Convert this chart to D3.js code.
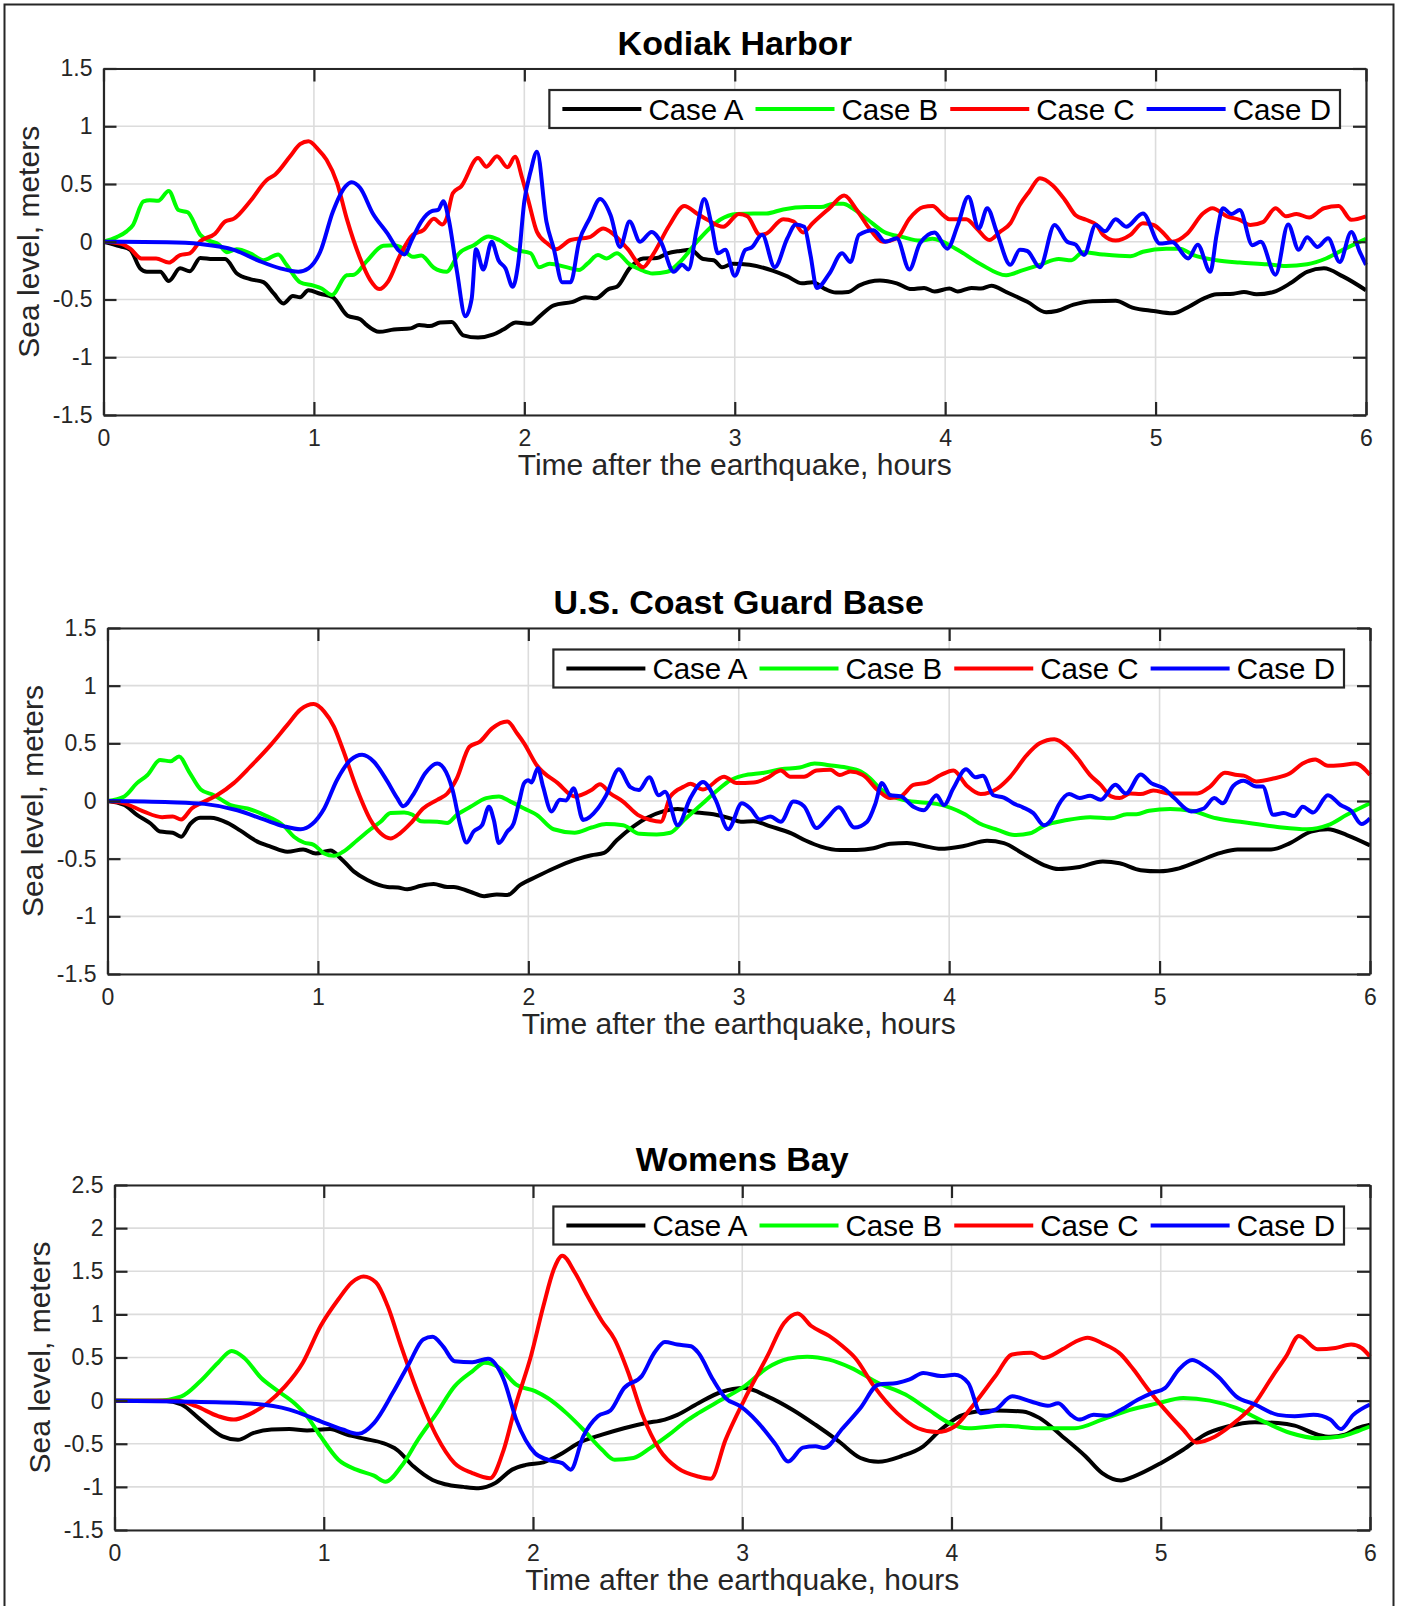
<!DOCTYPE html>
<html>
<head>
<meta charset="utf-8">
<script src="https://cdn.jsdelivr.net/npm/d3@7"></script>
<style>
body { margin: 0; background: #fff; }
text { font-family: "Liberation Sans", Arial, Helvetica, sans-serif; }
</style>
</head>
<body>
<svg id="fig" width="1403" height="1606"></svg>
<script>
////////////////////////////////////////////////////////////////
// Sea level at three Kodiak sites, four tsunami source cases
// values as [hours, meters]

const caseNames = ["Case A", "Case B", "Case C", "Case D"];
const caseColors = ["#000000", "#00ff00", "#ff0000", "#0000ff"];

const hourTicks = [0, 1, 2, 3, 4, 5, 6];
const levelTicks = [-1.5, -1, -0.5, 0, 0.5, 1, 1.5];
const levelTicksBay = [-1.5, -1, -0.5, 0, 0.5, 1, 1.5, 2, 2.5];

const titles = ["Kodiak Harbor", "U.S. Coast Guard Base", "Womens Bay"];
const xLabel = "Time after the earthquake, hours";
const yLabel = "Sea level, meters";

// Kodiak Harbor
let kodiakA = [[0,0],[0.08,-0.04],[0.127,-0.07],[0.174,-0.23],[0.206,-0.26],[0.27,-0.26],[0.31,-0.34],[0.364,-0.23],[0.41,-0.255],[0.46,-0.14],[0.52,-0.15],[0.578,-0.15],[0.634,-0.275],[0.70,-0.325],[0.76,-0.35],[0.81,-0.45],[0.855,-0.535],[0.90,-0.47],[0.934,-0.48],[0.974,-0.42],[1.03,-0.45],[1.09,-0.48],[1.16,-0.64],[1.22,-0.67],[1.25,-0.72],[1.31,-0.78],[1.38,-0.76],[1.46,-0.75],[1.50,-0.72],[1.55,-0.73],[1.60,-0.70],[1.655,-0.695],[1.71,-0.81],[1.78,-0.83],[1.85,-0.805],[1.90,-0.76],[1.96,-0.70],[2.03,-0.71],[2.07,-0.65],[2.14,-0.55],[2.23,-0.52],[2.29,-0.48],[2.34,-0.49],[2.40,-0.41],[2.44,-0.39],[2.50,-0.23],[2.565,-0.145],[2.63,-0.14],[2.68,-0.10],[2.74,-0.08],[2.79,-0.07],[2.85,-0.15],[2.90,-0.16],[2.94,-0.22],[2.99,-0.19],[3.07,-0.20],[3.18,-0.25],[3.25,-0.30],[3.32,-0.36],[3.37,-0.35],[3.43,-0.41],[3.48,-0.44],[3.54,-0.435],[3.59,-0.38],[3.69,-0.335],[3.77,-0.36],[3.84,-0.41],[3.90,-0.40],[3.95,-0.43],[4.02,-0.405],[4.06,-0.43],[4.125,-0.40],[4.17,-0.405],[4.22,-0.38],[4.29,-0.435],[4.39,-0.52],[4.48,-0.61],[4.53,-0.60],[4.61,-0.545],[4.70,-0.515],[4.81,-0.51],[4.89,-0.57],[4.99,-0.60],[5.08,-0.62],[5.16,-0.56],[5.23,-0.49],[5.29,-0.455],[5.37,-0.45],[5.42,-0.435],[5.48,-0.455],[5.56,-0.435],[5.64,-0.36],[5.72,-0.26],[5.80,-0.23],[5.89,-0.30],[6.0,-0.42]];
let kodiakB = [[0,0],[0.063,0.04],[0.11,0.09],[0.14,0.145],[0.19,0.35],[0.22,0.36],[0.26,0.355],[0.31,0.44],[0.356,0.275],[0.40,0.255],[0.46,0.06],[0.507,0.005],[0.546,-0.02],[0.586,-0.09],[0.633,-0.065],[0.697,-0.10],[0.76,-0.16],[0.83,-0.11],[0.87,-0.20],[0.934,-0.35],[0.998,-0.38],[1.037,-0.405],[1.085,-0.46],[1.156,-0.29],[1.19,-0.285],[1.25,-0.17],[1.33,-0.035],[1.38,-0.03],[1.41,-0.045],[1.47,-0.13],[1.51,-0.12],[1.57,-0.225],[1.63,-0.26],[1.69,-0.10],[1.76,-0.03],[1.83,0.045],[1.88,0.015],[1.95,-0.065],[2.03,-0.10],[2.07,-0.22],[2.12,-0.19],[2.20,-0.22],[2.26,-0.245],[2.30,-0.19],[2.35,-0.115],[2.39,-0.145],[2.44,-0.10],[2.50,-0.195],[2.55,-0.24],[2.61,-0.275],[2.68,-0.26],[2.74,-0.175],[2.82,0],[2.88,0.115],[2.93,0.19],[3.01,0.24],[3.09,0.245],[3.15,0.245],[3.23,0.28],[3.34,0.30],[3.41,0.30],[3.47,0.33],[3.515,0.33],[3.56,0.29],[3.63,0.195],[3.71,0.085],[3.80,0.04],[3.88,0.01],[3.94,0.025],[4.05,-0.06],[4.165,-0.19],[4.29,-0.29],[4.37,-0.245],[4.45,-0.20],[4.54,-0.15],[4.60,-0.16],[4.655,-0.09],[4.75,-0.11],[4.88,-0.125],[4.94,-0.087],[5.05,-0.06],[5.115,-0.06],[5.18,-0.115],[5.29,-0.16],[5.40,-0.18],[5.53,-0.195],[5.62,-0.21],[5.72,-0.195],[5.81,-0.145],[5.89,-0.07],[6.0,0.025]];
let kodiakC = [[0,0],[0.08,-0.015],[0.127,-0.06],[0.18,-0.145],[0.25,-0.145],[0.31,-0.18],[0.364,-0.115],[0.41,-0.10],[0.46,0.005],[0.53,0.07],[0.578,0.175],[0.62,0.20],[0.697,0.35],[0.776,0.535],[0.815,0.58],[0.887,0.74],[0.934,0.845],[0.974,0.87],[1.02,0.80],[1.06,0.71],[1.11,0.51],[1.156,0.20],[1.22,-0.145],[1.267,-0.33],[1.31,-0.41],[1.354,-0.34],[1.41,-0.115],[1.47,0.06],[1.52,0.10],[1.57,0.20],[1.61,0.15],[1.63,0.20],[1.66,0.42],[1.70,0.48],[1.78,0.725],[1.82,0.65],[1.87,0.74],[1.92,0.645],[1.956,0.735],[1.99,0.55],[2.02,0.35],[2.06,0.085],[2.11,-0.015],[2.15,-0.065],[2.22,0.015],[2.31,0.04],[2.375,0.115],[2.41,0.085],[2.49,-0.06],[2.565,-0.22],[2.61,-0.115],[2.69,0.145],[2.76,0.31],[2.82,0.245],[2.87,0.19],[2.945,0.13],[3.02,0.24],[3.06,0.22],[3.12,0.06],[3.15,0.07],[3.23,0.195],[3.28,0.175],[3.325,0.08],[3.37,0.16],[3.45,0.29],[3.52,0.40],[3.58,0.275],[3.64,0.115],[3.705,0],[3.77,0.03],[3.83,0.20],[3.895,0.30],[3.94,0.31],[3.99,0.23],[4.02,0.195],[4.10,0.195],[4.15,0.115],[4.21,0.015],[4.26,0.085],[4.31,0.16],[4.355,0.32],[4.40,0.435],[4.45,0.55],[4.51,0.49],[4.57,0.36],[4.62,0.23],[4.67,0.19],[4.72,0.145],[4.75,0.06],[4.81,0.01],[4.88,0.06],[4.94,0.16],[4.99,0.145],[5.04,0.07],[5.08,0],[5.15,0.07],[5.225,0.245],[5.27,0.29],[5.34,0.22],[5.40,0.19],[5.45,0.145],[5.51,0.17],[5.57,0.29],[5.62,0.22],[5.67,0.24],[5.73,0.21],[5.80,0.29],[5.87,0.31],[5.93,0.19],[6.0,0.22]];
let kodiakD = [[0,0],[0.30,-0.005],[0.46,-0.02],[0.62,-0.07],[0.745,-0.17],[0.84,-0.23],[0.926,-0.26],[0.974,-0.23],[1.03,-0.087],[1.09,0.26],[1.15,0.48],[1.18,0.515],[1.22,0.465],[1.28,0.245],[1.35,0.07],[1.40,-0.07],[1.43,-0.11],[1.465,0.015],[1.51,0.175],[1.56,0.265],[1.59,0.275],[1.615,0.35],[1.64,0.20],[1.68,-0.26],[1.72,-0.645],[1.75,-0.49],[1.77,-0.065],[1.805,-0.24],[1.845,0],[1.877,-0.16],[1.91,-0.23],[1.945,-0.39],[1.97,-0.20],[2.00,0.35],[2.03,0.61],[2.06,0.78],[2.105,0.175],[2.14,-0.06],[2.18,-0.35],[2.22,-0.35],[2.26,0],[2.31,0.20],[2.36,0.37],[2.41,0.23],[2.455,-0.045],[2.50,0.175],[2.55,0],[2.605,0.085],[2.65,-0.005],[2.71,-0.26],[2.75,-0.20],[2.78,-0.24],[2.82,0.115],[2.855,0.37],[2.89,0.145],[2.92,-0.10],[2.955,-0.07],[3.0,-0.295],[3.05,-0.07],[3.08,-0.05],[3.13,0.06],[3.19,-0.22],[3.25,0.03],[3.29,0.15],[3.33,0.13],[3.36,-0.115],[3.39,-0.40],[3.45,-0.275],[3.51,-0.10],[3.55,-0.175],[3.59,0.06],[3.66,0.10],[3.715,0],[3.77,0.03],[3.83,-0.24],[3.88,-0.015],[3.95,0.08],[4.01,-0.06],[4.06,0.145],[4.11,0.39],[4.16,0.115],[4.20,0.29],[4.245,0.085],[4.31,-0.20],[4.355,-0.07],[4.39,-0.08],[4.45,-0.22],[4.52,0.145],[4.58,0],[4.62,-0.025],[4.66,-0.115],[4.715,0.145],[4.76,0.09],[4.81,0.195],[4.86,0.13],[4.94,0.245],[5.02,-0.015],[5.08,-0.005],[5.155,-0.145],[5.20,-0.025],[5.26,-0.26],[5.29,0.06],[5.32,0.29],[5.36,0.24],[5.40,0.275],[5.46,-0.03],[5.50,0],[5.57,-0.285],[5.63,0.15],[5.68,-0.07],[5.72,0.04],[5.77,-0.045],[5.82,0.03],[5.875,-0.175],[5.93,0.085],[5.97,-0.085],[6.0,-0.20]];

// U.S. Coast Guard Base
let guardA = [[0,0],[0.08,-0.035],[0.14,-0.12],[0.205,-0.195],[0.25,-0.265],[0.31,-0.275],[0.35,-0.31],[0.395,-0.195],[0.44,-0.145],[0.49,-0.145],[0.57,-0.19],[0.63,-0.255],[0.71,-0.35],[0.775,-0.395],[0.855,-0.44],[0.93,-0.42],[0.99,-0.455],[1.06,-0.43],[1.11,-0.50],[1.17,-0.61],[1.235,-0.685],[1.33,-0.745],[1.38,-0.75],[1.425,-0.765],[1.49,-0.735],[1.55,-0.72],[1.615,-0.745],[1.645,-0.745],[1.72,-0.785],[1.79,-0.825],[1.85,-0.81],[1.90,-0.815],[1.96,-0.73],[2.04,-0.655],[2.12,-0.585],[2.22,-0.51],[2.30,-0.47],[2.36,-0.45],[2.42,-0.34],[2.50,-0.22],[2.56,-0.15],[2.64,-0.09],[2.71,-0.07],[2.80,-0.10],[2.88,-0.115],[2.96,-0.15],[3.01,-0.18],[3.07,-0.175],[3.15,-0.22],[3.25,-0.28],[3.32,-0.345],[3.39,-0.395],[3.48,-0.425],[3.56,-0.425],[3.64,-0.41],[3.72,-0.37],[3.80,-0.365],[3.88,-0.39],[3.96,-0.415],[4.07,-0.39],[4.18,-0.345],[4.26,-0.365],[4.35,-0.455],[4.45,-0.555],[4.52,-0.59],[4.61,-0.575],[4.73,-0.525],[4.81,-0.54],[4.91,-0.60],[5.00,-0.61],[5.08,-0.59],[5.18,-0.525],[5.29,-0.45],[5.37,-0.42],[5.53,-0.42],[5.62,-0.365],[5.72,-0.265],[5.80,-0.245],[5.89,-0.295],[6.0,-0.385]];
let guardB = [[0,0],[0.08,0.04],[0.14,0.155],[0.19,0.225],[0.25,0.355],[0.30,0.345],[0.34,0.385],[0.387,0.255],[0.443,0.10],[0.506,0.05],[0.585,-0.035],[0.665,-0.065],[0.743,-0.12],[0.84,-0.22],[0.886,-0.31],[0.933,-0.36],[0.98,-0.38],[1.03,-0.455],[1.076,-0.475],[1.12,-0.44],[1.187,-0.34],[1.25,-0.245],[1.298,-0.18],[1.345,-0.105],[1.41,-0.10],[1.45,-0.12],[1.49,-0.175],[1.567,-0.18],[1.615,-0.19],[1.66,-0.12],[1.725,-0.05],[1.80,0.025],[1.86,0.04],[1.915,-0.005],[1.98,-0.065],[2.04,-0.12],[2.12,-0.245],[2.22,-0.275],[2.30,-0.23],[2.37,-0.20],[2.45,-0.21],[2.53,-0.285],[2.61,-0.29],[2.675,-0.275],[2.74,-0.165],[2.82,-0.035],[2.90,0.095],[2.96,0.18],[3.02,0.22],[3.12,0.245],[3.20,0.275],[3.29,0.29],[3.36,0.325],[3.43,0.31],[3.51,0.29],[3.58,0.255],[3.625,0.195],[3.67,0.11],[3.72,0.05],[3.78,0.01],[3.86,-0.01],[3.94,-0.025],[4.07,-0.11],[4.15,-0.20],[4.23,-0.25],[4.31,-0.295],[4.385,-0.28],[4.45,-0.215],[4.56,-0.165],[4.67,-0.14],[4.77,-0.15],[4.845,-0.115],[4.89,-0.115],[4.95,-0.085],[5.05,-0.07],[5.15,-0.085],[5.27,-0.15],[5.40,-0.185],[5.56,-0.225],[5.70,-0.245],[5.80,-0.21],[5.89,-0.12],[6.0,-0.02]];
let guardC = [[0,0],[0.08,-0.02],[0.17,-0.09],[0.26,-0.14],[0.31,-0.135],[0.35,-0.16],[0.40,-0.065],[0.46,-0.005],[0.52,0.05],[0.60,0.155],[0.68,0.30],[0.775,0.485],[0.855,0.66],[0.918,0.795],[0.98,0.84],[1.03,0.775],[1.076,0.645],[1.12,0.44],[1.187,0.095],[1.25,-0.165],[1.298,-0.28],[1.345,-0.325],[1.39,-0.28],[1.44,-0.195],[1.50,-0.065],[1.567,0.01],[1.615,0.065],[1.66,0.195],[1.72,0.47],[1.77,0.515],[1.828,0.63],[1.90,0.69],[1.947,0.585],[1.98,0.50],[2.04,0.31],[2.14,0.155],[2.22,0.04],[2.30,0.095],[2.34,0.145],[2.39,0.065],[2.45,-0.005],[2.52,-0.12],[2.58,-0.165],[2.63,-0.18],[2.675,0.04],[2.74,0.125],[2.77,0.15],[2.83,0.10],[2.93,0.21],[2.99,0.155],[3.07,0.16],[3.135,0.20],[3.20,0.265],[3.245,0.21],[3.31,0.21],[3.37,0.265],[3.435,0.27],[3.48,0.225],[3.53,0.255],[3.59,0.225],[3.66,0.095],[3.72,0.025],[3.77,0.04],[3.83,0.14],[3.895,0.16],[3.96,0.225],[4.02,0.265],[4.085,0.13],[4.15,0.06],[4.23,0.11],[4.29,0.21],[4.37,0.40],[4.43,0.50],[4.50,0.535],[4.56,0.47],[4.61,0.37],[4.67,0.225],[4.72,0.14],[4.77,0.04],[4.81,0.025],[4.86,0.065],[4.91,0.06],[4.97,0.09],[5.05,0.065],[5.18,0.065],[5.24,0.125],[5.31,0.245],[5.37,0.225],[5.40,0.22],[5.46,0.17],[5.54,0.195],[5.62,0.24],[5.68,0.325],[5.74,0.36],[5.80,0.305],[5.86,0.31],[5.93,0.325],[6.0,0.225]];
let guardD = [[0,0],[0.30,-0.01],[0.46,-0.025],[0.617,-0.08],[0.743,-0.16],[0.84,-0.22],[0.918,-0.245],[0.973,-0.20],[1.03,-0.065],[1.09,0.18],[1.155,0.355],[1.21,0.40],[1.266,0.34],[1.33,0.17],[1.377,0.025],[1.405,-0.045],[1.456,0.065],[1.51,0.24],[1.567,0.325],[1.598,0.285],[1.64,0.095],[1.678,-0.22],[1.706,-0.36],[1.74,-0.265],[1.78,-0.21],[1.813,-0.05],[1.836,-0.165],[1.86,-0.365],[1.90,-0.265],[1.93,-0.195],[1.955,-0.02],[1.98,0.155],[2.0,0.18],[2.015,0.16],[2.045,0.285],[2.07,0.125],[2.11,-0.09],[2.15,0.01],[2.18,0.005],[2.215,0.11],[2.26,-0.165],[2.33,-0.065],[2.37,0.05],[2.43,0.275],[2.485,0.12],[2.525,0.095],[2.575,0.205],[2.62,0.05],[2.65,0.08],[2.71,-0.21],[2.77,0.025],[2.83,0.165],[2.89,0.01],[2.95,-0.245],[3.015,-0.02],[3.055,-0.065],[3.10,-0.16],[3.15,-0.135],[3.20,-0.18],[3.26,-0.005],[3.31,-0.045],[3.37,-0.235],[3.42,-0.15],[3.475,-0.055],[3.55,-0.23],[3.61,-0.18],[3.65,-0.02],[3.68,0.155],[3.72,0.05],[3.77,0.04],[3.83,-0.05],[3.88,-0.08],[3.94,0.05],[3.975,-0.035],[4.02,0.11],[4.08,0.275],[4.125,0.205],[4.16,0.22],[4.21,0.05],[4.26,0.03],[4.31,-0.025],[4.35,-0.055],[4.40,-0.105],[4.45,-0.21],[4.49,-0.15],[4.52,-0.035],[4.57,0.06],[4.62,0.025],[4.67,0.045],[4.72,0.01],[4.79,0.14],[4.84,0.065],[4.91,0.23],[4.96,0.155],[5.02,0.11],[5.07,0.025],[5.15,-0.09],[5.21,-0.065],[5.26,0.025],[5.30,-0.02],[5.35,0.13],[5.40,0.175],[5.46,0.125],[5.49,0.125],[5.54,-0.12],[5.59,-0.105],[5.64,-0.13],[5.68,-0.05],[5.73,-0.10],[5.80,0.05],[5.86,-0.035],[5.91,-0.085],[5.96,-0.20],[6.0,-0.15]];

// Womens Bay
let bayA = [[0,0],[0.24,0],[0.32,-0.045],[0.41,-0.22],[0.516,-0.415],[0.59,-0.455],[0.665,-0.375],[0.75,-0.335],[0.836,-0.33],[0.92,-0.345],[1.03,-0.33],[1.11,-0.395],[1.20,-0.445],[1.28,-0.49],[1.35,-0.57],[1.43,-0.765],[1.52,-0.92],[1.58,-0.97],[1.667,-1.0],[1.74,-1.015],[1.82,-0.955],[1.90,-0.80],[1.966,-0.745],[2.05,-0.715],[2.14,-0.61],[2.22,-0.49],[2.33,-0.395],[2.435,-0.32],[2.54,-0.26],[2.63,-0.22],[2.69,-0.165],[2.79,-0.03],[2.90,0.10],[3.01,0.145],[3.12,0.05],[3.24,-0.105],[3.35,-0.28],[3.46,-0.47],[3.565,-0.665],[3.65,-0.71],[3.76,-0.645],[3.865,-0.53],[3.95,-0.335],[4.04,-0.18],[4.12,-0.125],[4.21,-0.115],[4.34,-0.125],[4.42,-0.20],[4.53,-0.415],[4.64,-0.645],[4.72,-0.84],[4.81,-0.925],[4.87,-0.88],[5.0,-0.725],[5.107,-0.57],[5.21,-0.395],[5.32,-0.30],[5.45,-0.25],[5.56,-0.26],[5.64,-0.29],[5.75,-0.395],[5.81,-0.42],[5.88,-0.395],[5.94,-0.32],[6.0,-0.28]];
let bayB = [[0,0],[0.2,0],[0.32,0.05],[0.41,0.225],[0.495,0.44],[0.56,0.575],[0.62,0.495],[0.70,0.265],[0.77,0.13],[0.86,-0.03],[0.92,-0.18],[0.985,-0.415],[1.07,-0.685],[1.156,-0.80],[1.24,-0.87],[1.295,-0.94],[1.37,-0.765],[1.45,-0.455],[1.54,-0.145],[1.625,0.165],[1.71,0.34],[1.77,0.44],[1.84,0.38],[1.92,0.185],[2.01,0.11],[2.07,0.03],[2.16,-0.145],[2.24,-0.335],[2.33,-0.57],[2.39,-0.685],[2.48,-0.665],[2.56,-0.55],[2.65,-0.395],[2.73,-0.24],[2.79,-0.145],[2.90,0.01],[3.01,0.165],[3.12,0.38],[3.22,0.485],[3.31,0.51],[3.415,0.475],[3.52,0.38],[3.65,0.205],[3.78,0.07],[3.89,-0.105],[3.99,-0.26],[4.08,-0.32],[4.25,-0.29],[4.42,-0.32],[4.59,-0.32],[4.72,-0.22],[4.85,-0.11],[4.98,-0.035],[5.107,0.03],[5.235,0],[5.36,-0.085],[5.49,-0.24],[5.62,-0.375],[5.75,-0.435],[5.86,-0.415],[5.94,-0.355],[6.0,-0.30]];
let bayC = [[0,0],[0.30,0],[0.39,-0.065],[0.495,-0.18],[0.57,-0.22],[0.64,-0.165],[0.73,-0.03],[0.815,0.165],[0.90,0.44],[0.985,0.865],[1.07,1.175],[1.134,1.37],[1.19,1.44],[1.25,1.37],[1.305,1.10],[1.37,0.63],[1.45,0.09],[1.54,-0.415],[1.625,-0.725],[1.71,-0.84],[1.795,-0.90],[1.86,-0.57],[1.92,-0.03],[1.99,0.515],[2.05,1.10],[2.10,1.525],[2.14,1.68],[2.20,1.485],[2.26,1.215],[2.33,0.92],[2.39,0.71],[2.456,0.32],[2.52,-0.145],[2.605,-0.57],[2.69,-0.78],[2.79,-0.88],[2.85,-0.905],[2.92,-0.455],[3.01,0.01],[3.12,0.515],[3.20,0.90],[3.265,1.01],[3.33,0.865],[3.415,0.75],[3.48,0.63],[3.54,0.495],[3.63,0.165],[3.74,-0.145],[3.84,-0.32],[3.93,-0.365],[4.015,-0.30],[4.10,-0.065],[4.21,0.285],[4.29,0.535],[4.38,0.555],[4.44,0.495],[4.53,0.595],[4.59,0.68],[4.65,0.73],[4.72,0.665],[4.81,0.535],[4.87,0.36],[4.94,0.13],[5.02,-0.105],[5.107,-0.335],[5.17,-0.485],[5.26,-0.415],[5.36,-0.24],[5.45,-0.03],[5.535,0.285],[5.60,0.515],[5.66,0.75],[5.75,0.595],[5.835,0.61],[5.91,0.65],[5.96,0.61],[6.0,0.51]];
let bayD = [[0,0],[0.30,-0.01],[0.62,-0.03],[0.836,-0.105],[0.985,-0.24],[1.09,-0.335],[1.166,-0.385],[1.24,-0.26],[1.33,0.09],[1.41,0.44],[1.475,0.71],[1.52,0.74],[1.57,0.63],[1.625,0.457],[1.71,0.445],[1.785,0.485],[1.86,0.245],[1.92,-0.22],[2.01,-0.61],[2.07,-0.685],[2.14,-0.725],[2.18,-0.80],[2.24,-0.415],[2.31,-0.18],[2.37,-0.115],[2.435,0.145],[2.52,0.285],[2.58,0.555],[2.63,0.68],[2.69,0.65],[2.755,0.63],[2.79,0.555],[2.86,0.245],[2.92,0.03],[2.99,-0.065],[3.07,-0.24],[3.16,-0.51],[3.22,-0.705],[3.29,-0.545],[3.35,-0.53],[3.39,-0.55],[3.48,-0.32],[3.565,-0.085],[3.65,0.185],[3.74,0.205],[3.80,0.245],[3.865,0.32],[3.95,0.285],[4.015,0.30],[4.08,0.205],[4.14,-0.145],[4.21,-0.105],[4.29,0.05],[4.38,-0.01],[4.46,-0.06],[4.51,-0.03],[4.57,-0.165],[4.61,-0.22],[4.68,-0.165],[4.74,-0.175],[4.81,-0.105],[4.89,0.01],[4.96,0.09],[5.02,0.145],[5.086,0.36],[5.15,0.47],[5.21,0.40],[5.28,0.265],[5.36,0.05],[5.45,-0.045],[5.56,-0.165],[5.64,-0.18],[5.73,-0.165],[5.81,-0.22],[5.86,-0.33],[5.92,-0.165],[6.0,-0.045]];


////////////////////////////////////////////////////////////////
// layout of the three axes (pixels)

let panels = [
  { title: titles[0], left: 103.5, top: 68.5, right: 1366, bottom: 415,
    yTicks: levelTicks, series: [kodiakA, kodiakB, kodiakC, kodiakD] },
  { title: titles[1], left: 107.5, top: 628, right: 1370, bottom: 974,
    yTicks: levelTicks, series: [guardA, guardB, guardC, guardD] },
  { title: titles[2], left: 114.5, top: 1185, right: 1370, bottom: 1530,
    yTicks: levelTicksBay, series: [bayA, bayB, bayC, bayD] }
];

let axisColor = "#262626";
let lineWidth = 4;
let svg = d3.select("#fig");

// outer frame of the figure
svg.append("rect")
  .attr("x", 4.5).attr("y", 4.5)
  .attr("width", 1389).attr("height", 1640)
  .attr("fill", "none")
  .attr("stroke", axisColor)
  .attr("stroke-width", 2);

panels.forEach(drawPanel);

function drawPanel(p) {
  let xScale = d3.scaleLinear().domain([0, 6]).range([p.left, p.right]);
  let yScale = d3.scaleLinear().domain(d3.extent(p.yTicks)).range([p.bottom, p.top]);
  let g = svg.append("g");

  // grid
  g.selectAll(".vgrid")
    .data(hourTicks)
    .enter()
    .append("line")
    .attr("x1", d => xScale(d)).attr("x2", d => xScale(d))
    .attr("y1", p.top).attr("y2", p.bottom)
    .attr("stroke", "#dcdcdc").attr("stroke-width", 1.6);

  g.selectAll(".hgrid")
    .data(p.yTicks)
    .enter()
    .append("line")
    .attr("y1", d => yScale(d)).attr("y2", d => yScale(d))
    .attr("x1", p.left).attr("x2", p.right)
    .attr("stroke", "#dcdcdc").attr("stroke-width", 1.6);

  // the four cases
  let line = d3.line()
    .x(d => xScale(d[0]))
    .y(d => yScale(d[1]))
    .curve(d3.curveMonotoneX);

  g.selectAll(".case")
    .data(p.series)
    .enter()
    .append("path")
    .attr("d", d => line(d))
    .attr("fill", "none")
    .attr("stroke", (d, i) => caseColors[i])
    .attr("stroke-width", lineWidth)
    .attr("stroke-linejoin", "round");

  // axes, ticks pointing inward on all four sides
  let fmt = d => String(d);
  let bottomAxis = g.append("g")
    .attr("transform", `translate(0,${p.bottom})`)
    .call(d3.axisBottom(xScale).tickValues(hourTicks).tickFormat(fmt)
      .tickSizeInner(-13).tickSizeOuter(0).tickPadding(14.5));
  let leftAxis = g.append("g")
    .attr("transform", `translate(${p.left},0)`)
    .call(d3.axisLeft(yScale).tickValues(p.yTicks).tickFormat(fmt)
      .tickSizeInner(-13).tickSizeOuter(0).tickPadding(11));
  let topAxis = g.append("g")
    .attr("transform", `translate(0,${p.top})`)
    .call(d3.axisTop(xScale).tickValues(hourTicks).tickFormat("")
      .tickSizeInner(-13).tickSizeOuter(0));
  let rightAxis = g.append("g")
    .attr("transform", `translate(${p.right},0)`)
    .call(d3.axisRight(yScale).tickValues(p.yTicks).tickFormat("")
      .tickSizeInner(-13).tickSizeOuter(0));

  [bottomAxis, leftAxis, topAxis, rightAxis].forEach(a => {
    a.selectAll("path, line").attr("stroke", axisColor).attr("stroke-width", 2.2);
    a.selectAll("text")
      .attr("fill", axisColor)
      .style("font-family", '"Liberation Sans", Arial, sans-serif')
      .style("font-size", "23px");
  });

  // title and labels
  g.append("text")
    .attr("x", (p.left + p.right) / 2)
    .attr("y", p.top - 14)
    .attr("text-anchor", "middle")
    .style("font-size", "34px")
    .style("font-weight", "bold")
    .attr("fill", "#000")
    .text(p.title);

  g.append("text")
    .attr("x", (p.left + p.right) / 2)
    .attr("y", p.bottom + 60)
    .attr("text-anchor", "middle")
    .style("font-size", "30px")
    .attr("fill", axisColor)
    .text(xLabel);

  g.append("text")
    .attr("transform", `translate(${p.left - 65},${(p.top + p.bottom) / 2}) rotate(-90)`)
    .attr("text-anchor", "middle")
    .style("font-size", "30px")
    .attr("fill", axisColor)
    .text(yLabel);

  // legend box, top right
  let lg = g.append("g");
  let box = lg.append("rect")
    .attr("fill", "#fff")
    .attr("stroke", axisColor)
    .attr("stroke-width", 2.2);
  let cx = 13;
  caseNames.forEach((name, i) => {
    lg.append("line")
      .attr("x1", cx).attr("x2", cx + 79)
      .attr("y1", 19).attr("y2", 19)
      .attr("stroke", caseColors[i])
      .attr("stroke-width", lineWidth);
    cx += 86;
    let t = lg.append("text")
      .attr("x", cx).attr("y", 29.5)
      .style("font-size", "29.5px")
      .attr("fill", "#000")
      .text(name);
    cx += t.node().getComputedTextLength() + 12;
  });
  let boxW = cx - 3;
  box.attr("x", 0).attr("y", 0).attr("width", boxW).attr("height", 38);
  lg.attr("transform", `translate(${p.right - 26 - boxW},${p.top + 21.5})`);
}
</script>
</body>
</html>
